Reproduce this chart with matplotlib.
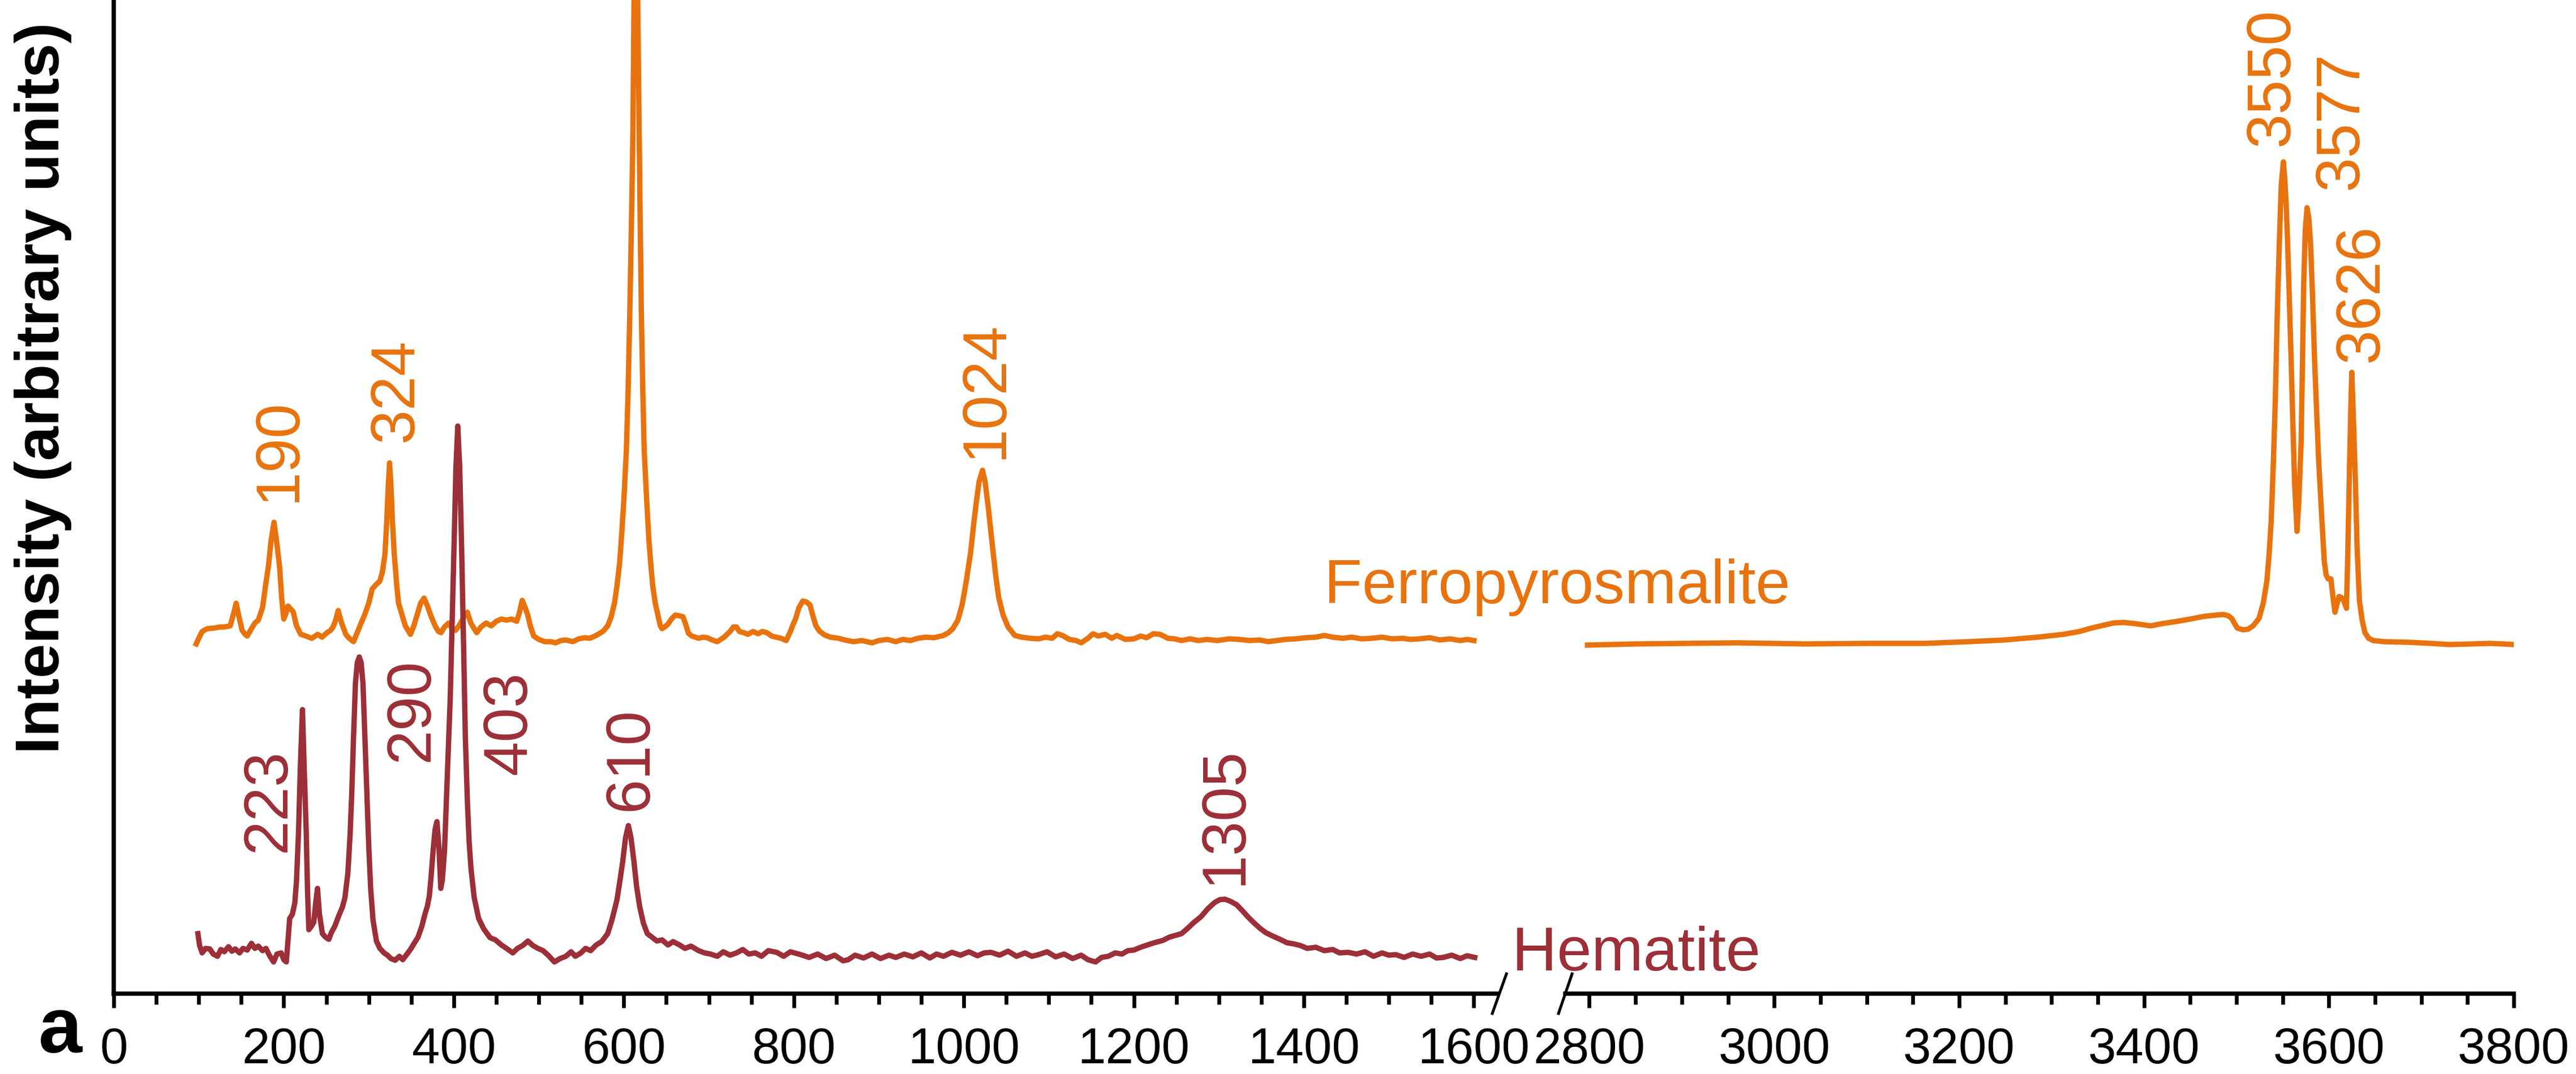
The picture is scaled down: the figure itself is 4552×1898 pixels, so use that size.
import matplotlib
matplotlib.use("Agg")
import matplotlib.pyplot as plt
from matplotlib.ticker import MultipleLocator
from matplotlib.lines import Line2D

plt.rcParams['font.family'] = ['Liberation Sans', 'DejaVu Sans']

# ---------------- data (arbitrary intensity units) ----------------
ferro_low_x = [97, 100, 104, 110, 118, 125, 130, 137, 141, 144, 147, 151, 154, 157, 162, 166, 170,
               175, 178, 182, 185, 188.5, 191.5, 195, 197.5, 200, 202.5, 205, 208, 211, 215, 220,
               226, 233, 240, 245, 251, 255, 258, 261, 264, 268, 273, 277, 282, 287, 291, 295, 300,
               304, 308, 313, 316, 319, 321, 323, 324.5, 326, 328, 330, 333, 335, 338, 343, 349,
               353, 358, 361, 365, 369, 373, 378, 382, 385, 389, 394, 398, 402, 406, 410, 413, 416,
               420, 424, 427, 432, 438, 444, 450, 456, 462, 468, 474, 477, 480.5, 484, 487, 490,
               494, 500, 507, 514, 520, 526, 532, 540, 547, 554, 560, 566, 571, 576, 581, 585, 589,
               592, 595, 597, 600, 603, 605, 607, 609, 610.7, 612.3, 614, 615.7, 617.5, 619, 620.7,
               622.3, 624, 627, 629.6, 632, 634, 637, 640.7, 643, 645, 648, 652, 656, 660.5, 665,
               669.6, 673, 676, 680, 684, 688, 693, 698, 704, 710, 718, 725, 729, 732.5, 736, 741,
               746, 752, 758, 763, 768, 774, 779, 785, 791, 796, 799, 802, 806, 810.6, 815, 819,
               822, 826, 830, 836, 843, 852.6, 860, 870, 880, 892, 900, 910, 920, 928, 937, 946,
               955, 965, 976, 982, 987, 993, 998, 1003, 1008, 1012, 1015, 1018, 1022, 1025, 1029,
               1033, 1037.6, 1041, 1046, 1052, 1060, 1068, 1078, 1088, 1096, 1104, 1110, 1116,
               1124, 1132, 1138, 1146, 1152, 1158, 1166.5, 1174, 1180, 1190, 1200, 1208, 1215,
               1223, 1231, 1240, 1248, 1256, 1266, 1276, 1286, 1298, 1312, 1324, 1336, 1348, 1358,
               1368, 1378, 1390, 1402, 1414, 1424, 1434, 1446, 1456, 1468, 1480, 1492, 1504, 1516,
               1526, 1536, 1548, 1560, 1572, 1584, 1592, 1600]
ferro_low_y = [618, 628, 640, 645, 646, 648, 648, 650, 672, 690, 668, 642, 636, 632, 645, 655, 660,
               682, 715, 756, 800, 833, 800, 756, 700, 662, 672, 685, 680, 675, 650, 635,
               632, 628, 635, 630, 638, 642, 648, 660, 677, 655, 635, 628, 622, 640, 655, 669, 690,
               715, 722, 729, 745, 776, 830, 900, 938, 900, 830, 776, 720, 690, 675, 650, 635,
               650, 675, 690, 699, 685, 668, 650, 640, 638, 648, 655, 645, 642, 650, 660, 670, 674,
               655, 645, 638, 648, 655, 650, 658, 662, 660, 662, 658, 672, 695, 682, 669, 650,
               632, 626, 622, 622, 620, 624, 625, 622, 627, 629, 628, 632, 636, 641, 650, 665, 690,
               721, 760, 800, 870, 960, 1060, 1199, 1360, 1518, 1800, 2150, 1850, 1600, 1400, 1199,
               1070, 960, 870, 800, 755, 721, 690, 665, 650, 645, 648, 653, 662, 669, 668,
               666, 652, 637, 632, 630, 628, 630, 629, 625, 622, 630, 640, 648, 648, 640, 638,
               635, 640, 636, 640, 638, 632, 630, 628, 624, 640, 652, 662, 682, 694, 692, 687,
               670, 650, 641, 634, 630, 628, 625, 622, 624, 620, 624, 626, 622, 626, 624, 628,
               630, 629, 633, 638, 645, 660, 687, 730, 780, 835, 872, 905, 925, 905, 856,
               800, 738, 700, 670, 648, 633, 630, 628, 627, 630, 628, 636, 633,
               626, 624, 620, 628, 636, 632, 635, 628, 633, 626, 627, 632, 629,
               636, 635, 628, 627, 624, 627, 624, 626, 624, 627, 626, 624, 625, 622,
               624, 626, 627, 629, 630, 633, 630, 628, 630, 627, 628, 630, 627, 628,
               626, 627, 629, 625, 627, 624, 626, 624]

ferro_high_x = [2798, 2850, 2905, 2960, 3034, 3100, 3163, 3210, 3249, 3285, 3313, 3330, 3343, 3356,
                3367, 3377.5, 3390, 3407, 3420, 3436, 3450, 3466, 3478, 3486, 3491, 3495, 3498,
                3501, 3507, 3512.6, 3518, 3524.4, 3529, 3533, 3535.5, 3537.6, 3540, 3542, 3544,
                3546.4, 3548.5, 3550.8, 3552.3, 3553.8, 3555.3, 3556.7, 3559, 3561, 3563, 3565.5,
                3567.5, 3570, 3571.5, 3572.8, 3574.5, 3576.4, 3578.3, 3580.2, 3582.4, 3584.6, 3587,
                3589, 3592, 3595, 3597, 3599.3, 3602.2, 3604.5, 3606.6, 3609, 3611, 3613.5, 3616,
                3619, 3620.5, 3622, 3623.5, 3624.8, 3626.5, 3628.7, 3630.5, 3633, 3636, 3639, 3643,
                3648, 3660, 3686, 3710, 3730, 3755, 3774, 3788, 3800]
ferro_high_y = [616, 618, 619, 620, 618, 619, 619, 622, 625, 630, 635, 640, 646, 651,
                655, 656, 654, 650, 654, 658, 662, 667, 669, 670, 668, 663, 654,
                646, 643, 644, 650, 663, 690, 730, 780, 835, 940, 1046, 1190,
                1326, 1430, 1470, 1440, 1396, 1330, 1256, 1130, 1010, 900, 817,
                870, 975, 1120, 1256, 1350, 1389, 1370, 1326, 1230, 1116, 1020,
                940, 850, 765, 740, 733, 733, 700, 674, 690, 702, 700, 695,
                681, 780, 905, 1020, 1098, 1020, 905, 790, 695, 660, 638, 628,
                624, 622, 621, 619, 617, 618, 619, 618, 617]

hem_x = [99, 101, 104, 108, 113, 117, 122, 126, 130, 135, 139, 143, 148, 152, 157, 162, 166, 170,
         175, 179, 183, 188, 192, 197, 200, 203, 205, 207, 210, 213, 215, 217.4, 219.5, 222, 224,
         226.4, 228, 229.5, 232, 235.3, 237.5, 239.7, 242, 245.5, 249, 253, 256, 260, 264, 269,
         272, 275.4, 278, 280, 282, 284.3, 286.5, 288.8, 291, 293.2, 295.5, 297.7, 300, 302.2, 305,
         309, 313, 318, 322, 326, 331, 336, 340, 344.5, 349, 353.4, 358, 362.4, 366, 369, 371.3,
         373.5, 375.7, 378, 380.2, 382.5, 384.7, 386.5, 389.1, 392, 395.8, 398, 400.3, 402.5,
         404.7, 407, 409.2, 411.5, 413.6, 416, 418, 420.3, 424, 429.2, 435, 442.6, 449, 456, 462,
         469.4, 475, 481, 487.2, 493, 499, 505, 511, 518.4, 525, 531.8, 538, 543, 549.6, 555, 561,
         567.5, 574, 581, 586, 592, 595.5, 598.7, 602, 605.4, 608.5, 612, 615, 618.8, 623, 627.7,
         633, 638.8, 645, 652, 658, 665.6, 672, 679, 688, 695, 702, 710, 717, 725, 732.5, 740,
         747, 754.7, 762, 770, 780, 788, 796, 808, 818, 828, 838, 848, 858, 864, 872, 882, 892,
         902, 912, 920, 930, 940, 950, 960, 968, 976, 986, 996, 1006, 1016, 1024, 1032, 1042,
         1052, 1062, 1072, 1080, 1088, 1098, 1108, 1118, 1128, 1138, 1146, 1155, 1162, 1170,
         1178, 1186, 1193, 1200, 1208, 1216, 1224, 1234, 1242, 1249, 1256, 1263, 1270, 1279,
         1287, 1295, 1301, 1307, 1314, 1321, 1328, 1334, 1340, 1348, 1355, 1363, 1372, 1380,
         1388, 1396, 1404, 1414, 1424, 1434, 1442, 1452, 1462, 1472, 1482, 1492, 1500, 1508,
         1518, 1528, 1538, 1548, 1556, 1564, 1574, 1584, 1592, 1601]
hem_y = [106, 85, 72, 80, 79, 70, 66, 78, 74, 83, 75, 79, 72, 80, 77, 89, 80, 84,
         76, 80, 68, 56, 70, 72, 60, 56, 95, 133, 140, 160, 200, 287, 400, 502, 400,
         287, 180, 113, 118, 126, 160, 186, 140, 106, 100, 96, 108, 119, 135, 153,
         170, 213, 280, 354, 450, 548, 585, 595, 585, 548, 450, 354, 260, 186, 130,
         93, 80, 72, 68, 62, 59, 66, 60, 69, 78, 89, 100, 119, 140, 155, 173,
         210, 253, 290, 304, 260, 186, 200, 253, 370, 521, 650, 789, 930,
         1003, 930, 789, 620, 454, 340, 270, 220, 170, 133, 115, 99, 95, 86, 80,
         72, 80, 85, 93, 85, 80, 76, 68, 56, 62, 66, 74, 66, 72, 80, 76,
         86, 92, 106, 130, 166, 200, 233, 275, 297, 275, 233, 190, 153, 125, 106,
         100, 93, 95, 86, 92, 86, 80, 84, 76, 72, 70, 66, 74, 68, 72, 78,
         70, 72, 66, 76, 73, 66, 74, 69, 64, 70, 62, 68, 58, 60, 68, 63, 70,
         62, 68, 64, 70, 65, 72, 63, 70, 66, 73, 68, 74, 67, 72, 73, 68,
         75, 66, 72, 66, 69, 74, 65, 70, 62, 68, 60, 56, 64, 66,
         72, 70, 76, 77, 82, 86, 90, 94, 100, 103, 106, 115, 125, 136,
         150, 161, 166, 167, 163, 157, 146, 136, 127, 116, 108, 102, 96, 90,
         88, 85, 80, 82, 76, 78, 72, 73, 70, 74, 66, 72, 68, 69,
         64, 70, 66, 70, 63, 64, 68, 62, 67, 64]

ferro_labels = ["190", "324", "1024", "3550", "3577", "3626"]
ferro_label_x = [195, 333, 1026, 3539, 3614, 3636]
ferro_label_y = [870, 976, 946, 1499, 1422, 1117]

hem_labels = ["223", "290", "403", "610", "1305"]
hem_label_x = [183, 351, 466, 609, 1308]
hem_label_y = [251, 411, 388, 324, 193]

ticks_major = 200
ticks_minor = 50

ORANGE = '#E8730E'
HEM = '#9C2F37'

W, H = 4552, 1899
fig = plt.figure(figsize=(W / 100, H / 100), dpi=100)

bottom_px = 1757
ax_bottom = (H - bottom_px) / H
ax_height = bottom_px / H

axL = fig.add_axes([201 / W, ax_bottom, (2645 - 201) / W, ax_height])
axR = fig.add_axes([2766 / W, ax_bottom, (4442 - 2766) / W, ax_height])

LW = 6.8
axL.plot(ferro_low_x, ferro_low_y, color=ORANGE, lw=LW, solid_joinstyle='round')
axL.plot(hem_x, hem_y, color=HEM, lw=LW, solid_joinstyle='round')
axR.plot(ferro_high_x, ferro_high_y, color=ORANGE, lw=LW, solid_joinstyle='round')

axL.set_xlim(0, 1627)
axR.set_xlim(2774, 3800)
for ax in (axL, axR):
    ax.set_ylim(0, bottom_px)
    ax.set_facecolor('none')
    ax.xaxis.set_major_locator(MultipleLocator(ticks_major))
    ax.xaxis.set_minor_locator(MultipleLocator(ticks_minor))
    ax.tick_params(axis='x', which='major', direction='out', length=18, width=4.8,
                   labelsize=64, pad=23)
    ax.tick_params(axis='x', which='minor', direction='out', length=13.5, width=4.8)
    ax.set_yticks([])
    ax.spines['top'].set_visible(False)
    ax.spines['right'].set_visible(False)
    ax.spines['bottom'].set_linewidth(5.4)
axL.spines['left'].set_linewidth(5.4)
axR.spines['left'].set_visible(False)

# peak labels
for s, x, y in zip(ferro_labels, ferro_label_x, ferro_label_y):
    ax = axL if x < 2000 else axR
    ax.text(x, y, s, rotation=90, ha='center', va='bottom', fontsize=79, color=ORANGE)
for s, x, y in zip(hem_labels, hem_label_x, hem_label_y):
    axL.text(x, y, s, rotation=90, ha='center', va='bottom', fontsize=79, color=HEM)

axL.text(1424, 691, "Ferropyrosmalite", fontsize=79, color=ORANGE, ha='left', va='baseline')
axL.text(1645, 42, "Hematite", fontsize=79, color=HEM, ha='left', va='baseline', clip_on=False)

# axis break marks
for (x1, y1, x2, y2) in [(2662, 1722, 2637, 1792), (2778, 1722, 2754, 1792)]:
    fig.add_artist(Line2D([x1 / W, x2 / W], [1 - y1 / H, 1 - y2 / H], color='black', lw=3.6,
                          transform=fig.transFigure))

fig.text(76 / W, 1 - 686 / H, "Intensity (arbitrary units)", rotation=90, ha='center',
         va='center', fontsize=79, fontweight='bold')
fig.text(68 / W, 1 - 1860 / H, "a", ha='left', va='baseline', fontsize=100, fontweight='bold')

fig.savefig("out.png", dpi=100)
